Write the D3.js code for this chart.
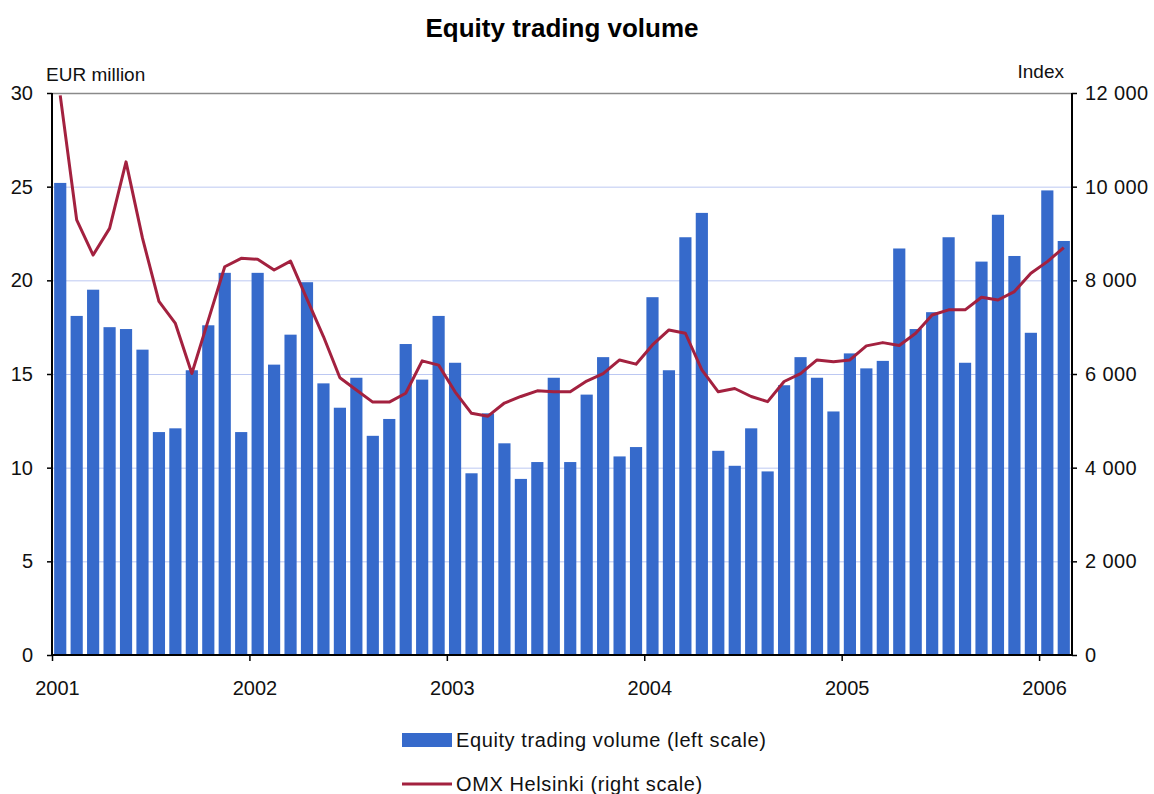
<!DOCTYPE html>
<html>
<head>
<meta charset="utf-8">
<script src="https://cdn.jsdelivr.net/npm/d3@7"></script>
<style>
  html, body { margin: 0; padding: 0; background: #fff; }
  svg { display: block; font-family: "Liberation Sans", Arial, sans-serif; }
</style>
</head>
<body>
<svg id="chart" width="1154" height="794"></svg>
<script>
const months = [
  "2001-01","2001-02","2001-03","2001-04","2001-05","2001-06","2001-07","2001-08","2001-09","2001-10","2001-11","2001-12",
  "2002-01","2002-02","2002-03","2002-04","2002-05","2002-06","2002-07","2002-08","2002-09","2002-10","2002-11","2002-12",
  "2003-01","2003-02","2003-03","2003-04","2003-05","2003-06","2003-07","2003-08","2003-09","2003-10","2003-11","2003-12",
  "2004-01","2004-02","2004-03","2004-04","2004-05","2004-06","2004-07","2004-08","2004-09","2004-10","2004-11","2004-12",
  "2005-01","2005-02","2005-03","2005-04","2005-05","2005-06","2005-07","2005-08","2005-09","2005-10","2005-11","2005-12",
  "2006-01","2006-02"
];
const volume = [
  25.2, 18.1, 19.5, 17.5, 17.4, 16.3, 11.9, 12.1, 15.2, 17.6, 20.4, 11.9,
  20.4, 15.5, 17.1, 19.9, 14.5, 13.2, 14.8, 11.7, 12.6, 16.6, 14.7, 18.1,
  15.6,  9.7, 12.9, 11.3,  9.4, 10.3, 14.8, 10.3, 13.9, 15.9, 10.6, 11.1,
  19.1, 15.2, 22.3, 23.6, 10.9, 10.1, 12.1,  9.8, 14.4, 15.9, 14.8, 13.0,
  16.1, 15.3, 15.7, 21.7, 17.4, 18.3, 22.3, 15.6, 21.0, 23.5, 21.3, 17.2,
  24.8, 22.1
];
const omx = [
  11950, 9290, 8540, 9110, 10530, 8900, 7550, 7080, 6010, 7150, 8290, 8470,
  8450, 8220, 8410, 7600, 6800, 5920, 5660, 5400, 5400, 5590, 6280, 6190,
  5620, 5160, 5100, 5380, 5520, 5640, 5620, 5620, 5850, 6010, 6300, 6210,
  6620, 6940, 6870, 6090, 5620, 5690, 5520, 5410, 5840, 6010, 6300, 6260,
  6300, 6600, 6670, 6610, 6870, 7260, 7370, 7370, 7640, 7580, 7760, 8150,
  8400, 8700
];
const yearTickIdx = [0, 12, 24, 36, 48, 60];
const yearLabels = ["2001", "2002", "2003", "2004", "2005", "2006"];
const leftTicks = [0, 5, 10, 15, 20, 25, 30];
const rightTicks = [0, 2000, 4000, 6000, 8000, 10000, 12000];

const title = "Equity trading volume";
const leftUnit = "EUR million";
const rightUnit = "Index";
const legendBar = "Equity trading volume (left scale)";
const legendLine = "OMX Helsinki (right scale)";

const barColor = "#366acb";
const lineColor = "#a3213f";

const X0 = 52, X1 = 1072, Y0 = 93, Y1 = 655;
const svg = d3.select("#chart");

const xBand = d3.scaleBand().domain(months).range([X0, X1]).paddingInner(0.26).paddingOuter(0.13);
const xLin = d3.scaleLinear().domain([0, months.length]).range([X0, X1]);
const yL = d3.scaleLinear().domain([0, 30]).range([Y1, Y0]);
const yR = d3.scaleLinear().domain([0, 12000]).range([Y1, Y0]);

// gridlines
svg.append("g").selectAll("line")
  .data(leftTicks.filter(t => t > 0 && t < 30))
  .join("line")
  .attr("x1", X0).attr("x2", X1)
  .attr("y1", d => yL(d) + 0.5).attr("y2", d => yL(d) + 0.5)
  .attr("stroke", "#bcc8f2").attr("stroke-width", 1);

// top border
svg.append("line").attr("x1", X0).attr("x2", X1).attr("y1", Y0 + 0.5).attr("y2", Y0 + 0.5)
  .attr("stroke", "#8a8a8a").attr("stroke-width", 1.5);

// bars
svg.append("g").selectAll("rect")
  .data(months)
  .join("rect")
  .attr("x", d => xBand(d))
  .attr("width", xBand.bandwidth())
  .attr("y", (d, i) => yL(volume[i]))
  .attr("height", (d, i) => Y1 - yL(volume[i]))
  .attr("fill", barColor);

// line
const line = d3.line()
  .x((d, i) => xBand(months[i]) + xBand.bandwidth() / 2)
  .y(d => yR(d));
svg.append("path")
  .datum(omx)
  .attr("d", line)
  .attr("fill", "none")
  .attr("stroke", lineColor)
  .attr("stroke-width", 3)
  .attr("stroke-linejoin", "round");

// axes
const fontSize = "20px";
const axL = svg.append("g").attr("transform", `translate(${X0},0)`)
  .call(d3.axisLeft(yL).tickValues(leftTicks).tickSize(5).tickPadding(14));
const axR = svg.append("g").attr("transform", `translate(${X1},0)`)
  .call(d3.axisRight(yR).tickValues(rightTicks).tickSize(5).tickPadding(8)
    .tickFormat(d => d3.format(",")(d).replace(/,/g, " ")));
const axB = svg.append("g").attr("transform", `translate(0,${Y1})`)
  .call(d3.axisBottom(xLin).tickValues(yearTickIdx).tickSize(6).tickPadding(20)
    .tickFormat((d, i) => yearLabels[i]));

[axL, axR, axB].forEach(g => {
  g.select(".domain").attr("stroke", "#000").attr("stroke-width", 2);
  g.selectAll(".tick line").attr("stroke", "#000").attr("stroke-width", 1.5);
  g.selectAll(".tick text").attr("fill", "#111").style("font-size", fontSize)
    .style("font-family", "'Liberation Sans', Arial, sans-serif");
});
axR.selectAll(".tick text").style("letter-spacing", "0.4px");
axB.selectAll(".tick text").attr("dx", 5);
axB.select(".domain").attr("d", `M${X0},0H${X1}`);
axL.select(".domain").attr("d", `M0,${Y0}V${Y1}`);
axR.select(".domain").attr("d", `M0,${Y0}V${Y1}`);

// titles
svg.append("text").attr("x", 562).attr("y", 37).attr("text-anchor", "middle")
  .style("font-size", "26px").style("font-weight", "bold").attr("fill", "#000").text(title);
svg.append("text").attr("x", 46).attr("y", 81).style("font-size", "19px").attr("fill", "#111").text(leftUnit);
svg.append("text").attr("x", 1064).attr("y", 78).attr("text-anchor", "end").style("font-size", "19px").attr("fill", "#111").text(rightUnit);

// legend
const lg = svg.append("g");
lg.append("rect").attr("x", 402).attr("y", 733).attr("width", 50).attr("height", 14).attr("fill", barColor);
lg.append("text").attr("x", 456).attr("y", 747).style("font-size", "20px").style("letter-spacing", "0.6px").attr("fill", "#111").text(legendBar);
lg.append("line").attr("x1", 402).attr("x2", 452).attr("y1", 784).attr("y2", 784).attr("stroke", lineColor).attr("stroke-width", 3);
lg.append("text").attr("x", 456).attr("y", 791).style("font-size", "20px").style("letter-spacing", "0.6px").attr("fill", "#111").text(legendLine);
</script>
</body>
</html>
